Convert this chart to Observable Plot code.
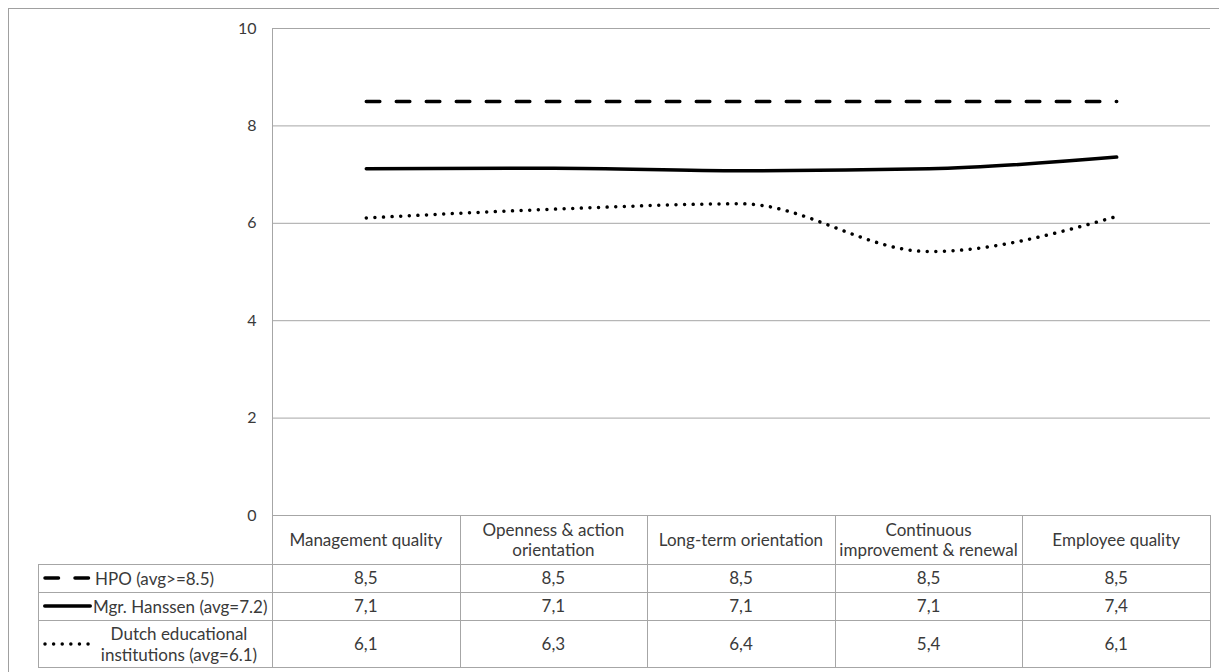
<!DOCTYPE html>
<html><head><meta charset="utf-8">
<script src="https://cdn.jsdelivr.net/npm/d3@7"></script>
<script src="https://cdn.jsdelivr.net/npm/@observablehq/plot@0.6"></script>
<style>
html,body{margin:0;padding:0;background:#fff;}
body{position:relative;width:1219px;height:672px;overflow:hidden;font-family:Lato,"Open Sans",sans-serif;color:#3a3a3a;}
#border{position:absolute;left:8px;top:8px;width:1300px;height:800px;border:1px solid #a0a0a0;}
#chart{position:absolute;left:0;top:0;}
.hl{position:absolute;height:1px;background:#a6a6a6;}
.vl{position:absolute;width:1px;background:#a6a6a6;}
.cell{position:absolute;display:flex;align-items:center;justify-content:center;text-align:center;font-size:17px;line-height:20px;white-space:pre-line;}
.leg{position:absolute;display:flex;align-items:center;font-size:17px;line-height:21px;white-space:pre-line;}
.sw{position:absolute;}
</style></head><body>
<div id="border"></div>
<div id="chart"></div>
<div id="table"></div>
<script>
// ---- data ----
const categories = ["Management quality", "Openness & action orientation", "Long-term orientation", "Continuous improvement & renewal", "Employee quality"];
const headerLabels = ["Management quality", "Openness & action\norientation", "Long-term orientation", "Continuous\nimprovement & renewal", "Employee quality"];
const seriesNames = ["HPO (avg>=8.5)", "Mgr. Hanssen (avg=7.2)", "Dutch educational\ninstitutions (avg=6.1)"];
const hpo = [8.5, 8.5, 8.5, 8.5, 8.5];
const hanssen = [7.12, 7.13, 7.08, 7.12, 7.36];
const dutch = [6.11, 6.29, 6.40, 5.42, 6.14];
const yTicks = [0, 2, 4, 6, 8, 10];

// ---- styles ----
const GRID = "#a6a6a6";
const TEXT = "#3a3a3a";
const dashes = ["13.5,16.5", null, "0.01,8.6"];
const seriesValues = [hpo, hanssen, dutch];

const rows = vals => categories.map((c, i) => ({category: c, value: vals[i]}));
const lineOpts = {x: "category", y: "value", stroke: "#000", strokeWidth: 3.5, strokeLinecap: "round", strokeLinejoin: "round", curve: "monotone-x"};

const chart = Plot.plot({
  width: 1219, height: 520,
  marginLeft: 272, marginRight: 9, marginTop: 28, marginBottom: 5,
  style: {fontFamily: "Lato, 'Open Sans', sans-serif", fontSize: "16px", color: TEXT, background: "transparent", overflow: "visible"},
  x: {type: "band", domain: categories, padding: 0, round: false, axis: null},
  y: {domain: [0, 10], axis: null, label: null},
  marks: [
    Plot.gridY(yTicks, {stroke: GRID, strokeOpacity: 1}),
    Plot.frame({anchor: "left", stroke: GRID, strokeOpacity: 1}),
    Plot.axisY(yTicks, {tickSize: 0, tickPadding: 16, tickFormat: d => String(d), fill: TEXT, label: null}),
    ...seriesValues.map((vals, k) => Plot.line(rows(vals), dashes[k] ? {...lineOpts, strokeDasharray: dashes[k]} : lineOpts))
  ]
});
document.getElementById("chart").appendChild(chart);

// ---- data table below the plot, aligned with the Plot scales ----
const xs = chart.scale("x"), ys = chart.scale("y");
const bw = xs.bandwidth;
const colLeft = categories.map(c => xs.apply(c));
const left0 = colLeft[0];
const right = left0 + bw * categories.length;
const yTop = ys.apply(0);
const legendLeft = 38;
const rowH = [49, 28, 28, 47];
const rowTop = [yTop];
rowH.forEach(h => rowTop.push(rowTop[rowTop.length - 1] + h));
const fmt = v => d3.format(".1f")(v).replace(".", ",");

const tbl = document.getElementById("table");
function add(cls, css, html) {
  const d = document.createElement("div");
  d.className = cls;
  Object.assign(d.style, css);
  if (html != null) d.innerHTML = html;
  tbl.appendChild(d);
  return d;
}
// horizontal lines
for (let r = 1; r < rowTop.length; r++) {
  add("hl", {left: legendLeft + "px", top: rowTop[r] + "px", width: (right - legendLeft + 1) + "px"});
}
// vertical lines
add("vl", {left: legendLeft + "px", top: rowTop[1] + "px", height: (rowTop[4] - rowTop[1] + 1) + "px"});
for (let i = 0; i <= categories.length; i++) {
  add("vl", {left: (left0 + bw * i) + "px", top: yTop + "px", height: (rowTop[4] - yTop + 1) + "px"});
}
// header
headerLabels.forEach((lab, i) => {
  add("cell", {left: colLeft[i] + "px", top: rowTop[0] + "px", width: bw + "px", height: rowH[0] + "px"}, lab.replace(/&/g, "&amp;"));
});
// values
seriesValues.forEach((vals, k) => {
  vals.forEach((v, i) => {
    add("cell", {left: colLeft[i] + "px", top: rowTop[k + 1] + "px", width: bw + "px", height: rowH[k + 1] + "px"}, fmt(v));
  });
});
// legend keys + names
const swX = [[7, 50.5], [6.75, 52.25], [7, 50.1]];
const textLeft = [95, 93, 88];
seriesNames.forEach((name, k) => {
  const top = rowTop[k + 1], h = rowH[k + 1];
  const ns = "http://www.w3.org/2000/svg";
  const svg = document.createElementNS(ns, "svg");
  svg.setAttribute("width", 60); svg.setAttribute("height", 10);
  svg.setAttribute("class", "sw");
  svg.style.left = legendLeft + "px";
  svg.style.top = (top + h / 2 - 5) + "px";
  const ln = document.createElementNS(ns, "line");
  ln.setAttribute("x1", swX[k][0]); ln.setAttribute("x2", swX[k][1]);
  ln.setAttribute("y1", 5); ln.setAttribute("y2", 5);
  ln.setAttribute("stroke", "#000"); ln.setAttribute("stroke-width", 3.5);
  ln.setAttribute("stroke-linecap", "round");
  if (dashes[k]) ln.setAttribute("stroke-dasharray", dashes[k]);
  svg.appendChild(ln);
  tbl.appendChild(svg);
  const css = {left: textLeft[k] + "px", top: top + "px", height: h + "px"};
  if (k === 2) { css.width = (left0 - 2 - textLeft[k]) + "px"; css.justifyContent = "center"; css.textAlign = "center"; }
  add("leg", css, name);
});
</script>
</body></html>
